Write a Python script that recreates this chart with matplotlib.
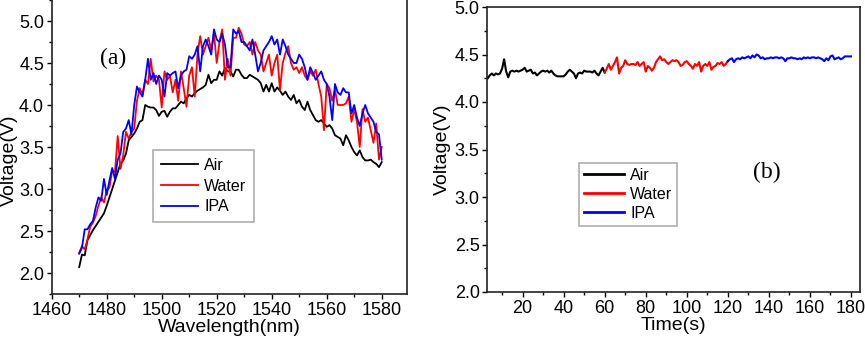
import matplotlib
matplotlib.use('Agg')
import matplotlib.pyplot as plt
from matplotlib.ticker import MultipleLocator, FormatStrFormatter
import numpy as np

# panel (a): spectra vs wavelength
wavelength = np.arange(1470, 1581, 1)

air_a = [2.07, 2.22, 2.21, 2.39, 2.45, 2.51, 2.56, 2.61, 2.66, 2.71, 2.80,
         2.90, 3.00, 3.10, 3.20, 3.30, 3.34, 3.42, 3.58, 3.62, 3.66,
         3.72, 3.80, 3.82, 4.00, 3.98, 3.97, 3.97, 3.94, 3.87, 3.92,
         3.93, 3.86, 3.92, 3.96, 3.96, 4.00, 4.04, 4.02, 4.08, 4.12,
         4.10, 4.14, 4.17, 4.19, 4.21, 4.24, 4.36, 4.26, 4.30, 4.30,
         4.40, 4.35, 4.44, 4.40, 4.40, 4.34, 4.42, 4.42, 4.36, 4.32,
         4.32, 4.36, 4.34, 4.32, 4.30, 4.26, 4.16, 4.24, 4.16, 4.26,
         4.16, 4.21, 4.17, 4.12, 4.16, 4.10, 4.06, 4.12, 4.02, 4.06,
         3.98, 3.94, 4.04, 3.94, 3.88, 3.82, 3.80, 3.82, 3.78, 3.74,
         3.76, 3.72, 3.64, 3.62, 3.60, 3.52, 3.64, 3.58, 3.50, 3.44,
         3.40, 3.46, 3.38, 3.34, 3.34, 3.35, 3.32, 3.30, 3.26, 3.32]

water_a = [2.24, 2.32, 2.28, 2.40, 2.55, 2.60, 2.68, 2.80, 2.90, 2.84, 2.98,
           3.02, 3.22, 3.20, 3.63, 3.24, 3.40, 3.68, 3.60, 3.68, 3.72,
           4.05, 4.20, 4.12, 4.30, 4.25, 4.55, 4.28, 4.35, 4.30, 3.97,
           4.40, 4.30, 4.35, 4.15, 4.30, 4.05, 4.40, 4.20, 3.98, 4.35,
           4.45, 4.10, 4.60, 4.82, 4.60, 4.70, 4.80, 4.65, 4.85, 4.50,
           4.75, 4.90, 4.30, 4.55, 4.35, 4.80, 4.80, 4.92, 4.85, 4.72,
           4.70, 4.75, 4.60, 4.75, 4.65, 4.60, 4.40, 4.50, 4.60, 4.35,
           4.50, 4.60, 4.18, 4.50, 4.62, 4.70, 4.50, 4.42, 4.45, 4.38,
           4.45, 4.35, 4.30, 4.40, 4.35, 4.42, 4.25, 4.10, 3.70, 4.25,
           4.20, 4.05, 4.18, 4.00, 4.00, 4.00, 4.02, 4.10, 3.80, 3.95,
           3.80, 3.50, 3.95, 3.80, 3.85, 3.70, 3.55, 3.78, 3.35, 3.50]

ipa_a = [2.23, 2.30, 2.52, 2.52, 2.58, 2.62, 2.78, 2.90, 2.86, 3.12, 2.93,
         3.10, 3.25, 3.12, 3.35, 3.42, 3.68, 3.72, 3.82, 3.65, 4.00,
         4.22, 4.15, 4.10, 4.30, 4.55, 4.30, 4.38, 4.25, 4.35, 4.30,
         4.10, 4.38, 4.35, 4.38, 4.40, 4.20, 4.35, 4.40, 4.42, 4.58,
         4.55, 4.60, 4.70, 4.40, 4.70, 4.78, 4.70, 4.60, 4.90, 4.78,
         4.75, 4.85, 4.72, 4.45, 4.45, 4.90, 4.85, 4.88, 4.75, 4.75,
         4.70, 4.65, 4.78, 4.60, 4.40, 4.50, 4.65, 4.70, 4.75, 4.82,
         4.72, 4.78, 4.60, 4.78, 4.70, 4.60, 4.55, 4.50, 4.50, 4.60,
         4.55, 4.45, 4.30, 4.45, 4.38, 4.30, 4.35, 4.40, 4.30, 4.25,
         4.10, 3.82, 4.25, 4.15, 4.12, 4.20, 4.15, 4.15, 3.90, 4.00,
         3.85, 3.75, 3.90, 4.00, 3.90, 3.85, 3.80, 3.68, 3.65, 3.35]

# panel (b): voltage vs time
time_air = np.arange(3, 61, 1)
air_b = [4.25, 4.28, 4.30, 4.28, 4.30, 4.29, 4.30, 4.35, 4.45, 4.32,
         4.26, 4.32, 4.33, 4.32, 4.33, 4.32, 4.33, 4.34, 4.36, 4.32,
         4.33, 4.34, 4.30, 4.31, 4.28, 4.30, 4.32, 4.33, 4.32, 4.33,
         4.31, 4.33, 4.30, 4.28, 4.27, 4.27, 4.27, 4.27, 4.29, 4.32,
         4.34, 4.32, 4.30, 4.25, 4.30, 4.31, 4.30, 4.33, 4.32, 4.32,
         4.32, 4.31, 4.33, 4.30, 4.28, 4.32, 4.36, 4.31]

time_water = np.arange(60, 121, 1)
water_b = [4.31, 4.35, 4.40, 4.34, 4.38, 4.42, 4.47, 4.30, 4.36, 4.38,
           4.44, 4.40, 4.39, 4.40, 4.40, 4.39, 4.42, 4.38, 4.40, 4.42,
           4.32, 4.38, 4.36, 4.33, 4.36, 4.42, 4.45, 4.48, 4.44, 4.45,
           4.42, 4.40, 4.42, 4.44, 4.43, 4.44, 4.42, 4.38, 4.39, 4.42,
           4.43, 4.40, 4.38, 4.35, 4.40, 4.38, 4.42, 4.32, 4.38, 4.40,
           4.38, 4.42, 4.34, 4.37, 4.38, 4.41, 4.40, 4.42, 4.38, 4.40,
           4.43]

time_ipa = np.arange(120, 181, 1)
ipa_b = [4.43, 4.45, 4.46, 4.42, 4.45, 4.46, 4.45, 4.47, 4.46, 4.47,
         4.48, 4.46, 4.49, 4.47, 4.50, 4.49, 4.46, 4.47, 4.45, 4.46,
         4.46, 4.47, 4.46, 4.47, 4.47, 4.46, 4.47, 4.46, 4.43, 4.46,
         4.46, 4.47, 4.46, 4.46, 4.45, 4.46, 4.45, 4.47, 4.46, 4.47,
         4.46, 4.47, 4.47, 4.46, 4.47, 4.46, 4.45, 4.43, 4.46, 4.44,
         4.48, 4.49, 4.45, 4.46, 4.47, 4.45, 4.46, 4.48, 4.48, 4.48,
         4.48]

plt.rcParams['font.family'] = ['Liberation Sans', 'DejaVu Sans']

W, H = 865, 341
fig = plt.figure(figsize=(W / 100, H / 100), dpi=100)

def fig_box(x0, y0, x1, y1):
    # pixel box (top-left origin) -> figure fraction rect
    return [x0 / W, 1 - y1 / H, (x1 - x0) / W, (y1 - y0) / H]

def style_axes(ax):
    for s in ax.spines.values():
        s.set_linewidth(1.2)
        s.set_color('#222222')
    ax.tick_params(which='major', direction='out', length=3.5, width=1, labelsize=13, pad=2)
    ax.tick_params(which='minor', direction='out', length=2, width=1)
    ax.tick_params(right=False, top=False, which='both')

# ---- panel (a)
ax1 = fig.add_axes(fig_box(51.7, 0, 407.3, 294))
ax1.plot(wavelength, air_a, color='black', lw=1.3, label='Air')
ax1.plot(wavelength, water_a, color='#ff0000', lw=1.3, label='Water')
ax1.plot(wavelength, ipa_a, color='#0000ff', lw=1.3, label='IPA')
ax1.set_xlim(1460, 1589.3)
ax1.set_ylim(1.75, 5.25)
ax1.xaxis.set_major_locator(MultipleLocator(20))
ax1.xaxis.set_minor_locator(MultipleLocator(10))
ax1.yaxis.set_minor_locator(MultipleLocator(0.25))
ax1.set_yticks([2.0, 2.5, 3.0, 3.5, 4.0, 4.5, 5.0])
ax1.yaxis.set_major_formatter(FormatStrFormatter('%.1f'))
style_axes(ax1)
ax1.spines['top'].set_visible(False)
ax1.set_xlabel('Wavelength(nm)', fontsize=14, labelpad=0)
ax1.set_ylabel('Voltage(V)', fontsize=14)
# keep the label just inside the left edge
ax1.yaxis.set_label_coords((18 - 51.7) / 355.6, (294 - 160) / 294)
ax1.text(113 / W, 1 - 58 / H, '(a)', transform=fig.transFigure, fontsize=17,
         family='Liberation Serif', ha='center', va='center')
leg1 = ax1.legend(loc='upper left', bbox_to_anchor=(153 / W, 1 - 150 / H),
                  bbox_transform=fig.transFigure, fontsize=11.5, frameon=True,
                  fancybox=False, edgecolor='#999999', handlelength=2.3,
                  borderaxespad=0, borderpad=0.5, labelspacing=0.35, handletextpad=0.4)
leg1.get_frame().set_linewidth(1.2)

# ---- panel (b)
ax2 = fig.add_axes(fig_box(487.3, 7, 860, 292))
ax2.plot(time_air, air_b, color='black', lw=1.5, label='Air')
ax2.plot(time_water, water_b, color='#ff0000', lw=1.5, label='Water')
ax2.plot(time_ipa, ipa_b, color='#0000ff', lw=1.5, label='IPA')
ax2.set_xlim(2.8, 184.4)
ax2.set_ylim(2.0, 5.0)
ax2.xaxis.set_major_locator(MultipleLocator(20))
ax2.xaxis.set_minor_locator(MultipleLocator(10))
ax2.yaxis.set_major_locator(MultipleLocator(0.5))
ax2.yaxis.set_minor_locator(MultipleLocator(0.25))
ax2.yaxis.set_major_formatter(FormatStrFormatter('%.1f'))
style_axes(ax2)
ax2.set_xlabel('Time(s)', fontsize=14, labelpad=0)
ax2.set_ylabel('Voltage(V)', fontsize=14, labelpad=3)
ax2.text(767 / W, 1 - 172 / H, '(b)', transform=fig.transFigure, fontsize=17,
         family='Liberation Serif', ha='center', va='center')
leg2 = ax2.legend(loc='upper left', bbox_to_anchor=(579 / W, 1 - 163 / H),
                  bbox_transform=fig.transFigure, fontsize=11.5, frameon=True,
                  fancybox=False, edgecolor='#999999', handlelength=2.5,
                  borderaxespad=0, borderpad=0.3, labelspacing=0.25, handletextpad=0.4)
leg2.get_frame().set_linewidth(1.2)
for line in leg2.get_lines():
    line.set_linewidth(2)

fig.savefig('out.png', dpi=100)
